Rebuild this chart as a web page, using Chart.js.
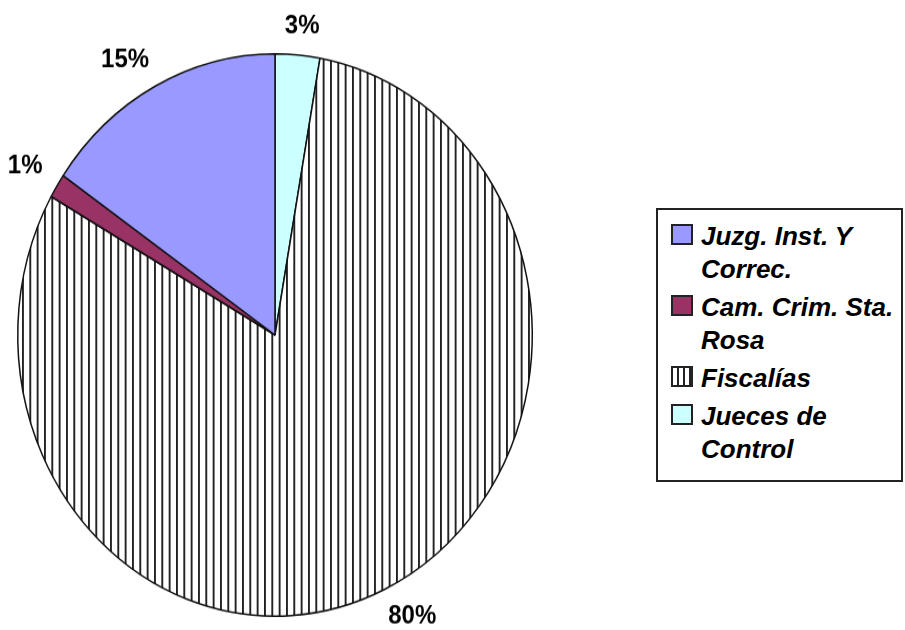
<!DOCTYPE html>
<html>
<head>
<meta charset="utf-8">
<script src="https://cdn.jsdelivr.net/npm/chart.js@4.4.1/dist/chart.umd.min.js"></script>
<style>
  body { margin: 0; background: #fff; width: 905px; height: 630px; overflow: hidden; position: relative; }
  #pieWrap {
    position: absolute; left: 0; top: 15px; width: 550px; height: 640px;
    transform: scaleY(1.093); transform-origin: 275px 320px;
  }
  #legend {
    position: absolute; left: 656px; top: 208px; width: 243px; height: 260px;
    border: 2px solid #222; padding-top: 10px; box-sizing: content-box;
    font-family: 'Liberation Sans', Arial, sans-serif; font-weight: bold; font-style: italic;
    font-size: 26px; line-height: 33px; color: #000;
  }
  .item { display: flex; margin-left: 13px; margin-bottom: 5px; }
  .swatch { width: 18px; height: 17px; border: 2px solid #222; margin-top: 4px; margin-right: 8px; flex: none; }
  .txt { width: 196px; }
</style>
</head>
<body>
<div id="pieWrap"><canvas id="pieChart"></canvas></div>
<div id="legend"></div>
<script>
// Datos (orden de la leyenda)
const categorias = ['Juzg. Inst. Y Correc.', 'Cam. Crim. Sta. Rosa', 'Fiscalías', 'Jueces de Control'];
const porcentajes = [15.4, 1.4, 80.4, 2.8];
const colores = ['#9999FF', '#993366', 'hatch', '#CCFFFF'];

// Patrón de rayas verticales para Fiscalías
function makeHatch() {
    const c = document.createElement('canvas');
    c.width = 22; c.height = 8;
    const g = c.getContext('2d');
    g.fillStyle = '#fff';
    g.fillRect(0, 0, 22, 8);
    g.fillStyle = '#222';
    [0, 7.33, 14.67].forEach(x => g.fillRect(x, 0, 1.9, 8));
    return g.createPattern(c, 'repeat');
}
const hatch = makeHatch();

// El gráfico se dibuja en sentido horario desde arriba: orden inverso a la leyenda
const pieLabels = categorias.slice().reverse();
const pieData = porcentajes.slice().reverse();
const pieColors = colores.slice().reverse().map(c => c === 'hatch' ? hatch : c);

// Etiquetas de porcentaje fuera del gráfico
const outsideLabels = {
    id: 'outsideLabels',
    afterDatasetsDraw(chart) {
        const ctx = chart.ctx;
        const meta = chart.getDatasetMeta(0);
        ctx.save();
        ctx.font = 'bold 24px "Liberation Sans", Arial, sans-serif';
        ctx.fillStyle = '#000';
        ctx.textAlign = 'center';
        ctx.textBaseline = 'middle';
        meta.data.forEach((arc, i) => {
            const txt = Math.round(pieData[i]) + '%';
            const mid = (arc.startAngle + arc.endAngle) / 2;
            const cs = Math.cos(mid), sn = Math.sin(mid);
            const halfW = ctx.measureText(txt).width / 2;
            const d = arc.outerRadius + 17;
            const x = arc.x + cs * d + Math.sign(cs) * halfW * Math.min(1, Math.abs(cs) * 2);
            const y = arc.y + sn * d + Math.sign(sn) * 9 * Math.min(1, Math.abs(sn) * 2);
            ctx.fillText(txt, x, y);
        });
        ctx.restore();
    }
};

new Chart(document.getElementById('pieChart'), {
    type: 'pie',
    data: {
        labels: pieLabels,
        datasets: [{
            data: pieData,
            backgroundColor: pieColors,
            borderColor: '#111',
            borderWidth: 1.5
        }]
    },
    options: {
        responsive: true,
        maintainAspectRatio: false,
        animation: false,
        layout: { padding: { left: 17, right: 17, top: 62, bottom: 62 } },
        plugins: {
            legend: { display: false },
            tooltip: { enabled: false }
        }
    },
    plugins: [outsideLabels]
});

// Leyenda
const legend = document.getElementById('legend');
categorias.forEach((cat, i) => {
    const item = document.createElement('div');
    item.className = 'item';
    const sw = document.createElement('div');
    sw.className = 'swatch';
    if (colores[i] === 'hatch') {
        sw.style.background = 'repeating-linear-gradient(90deg, #fff 0px, #fff 4px, #222 4px, #222 6px)';
    } else {
        sw.style.background = colores[i];
    }
    const t = document.createElement('div');
    t.className = 'txt';
    t.textContent = cat;
    item.appendChild(sw);
    item.appendChild(t);
    legend.appendChild(item);
});
</script>
</body>
</html>
